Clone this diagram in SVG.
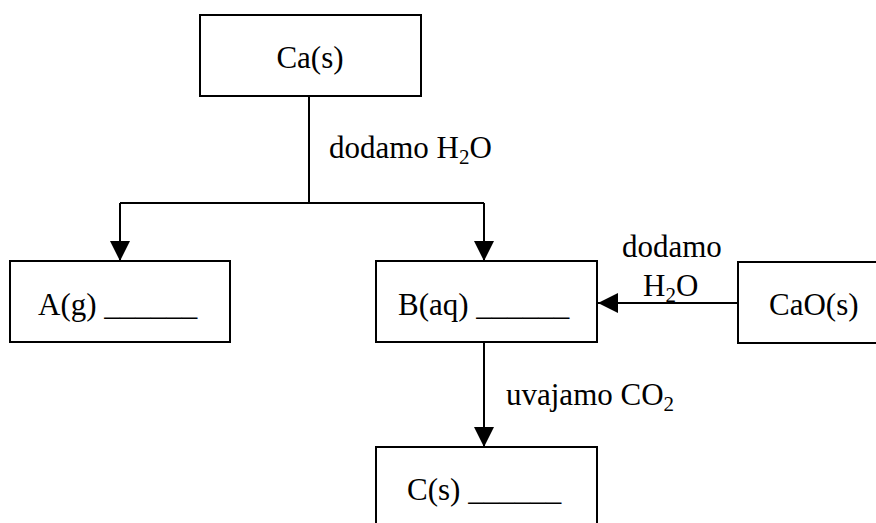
<svg xmlns="http://www.w3.org/2000/svg" width="876" height="523" viewBox="0 0 876 523">
<defs>
<marker id="ah" markerWidth="20" markerHeight="20" refX="20" refY="10" orient="auto" markerUnits="userSpaceOnUse">
<path d="M0,0 L20,10 L0,20 Z" fill="#000"/>
</marker>
<style>
.box{fill:#fff;stroke:#000;stroke-width:2}
.ln{fill:none;stroke:#000;stroke-width:2}
text{font-family:"Liberation Serif","Times New Roman",serif;font-size:31px;fill:#000}
.sub{font-size:21px}
</style>
</defs>
<rect width="876" height="523" fill="#fff"/>
<g id="connectors">
<path class="ln" d="M309,96 V203"/>
<path class="ln" d="M120,203 H484"/>
<path class="ln" d="M120,203 V261" marker-end="url(#ah)"/>
<path class="ln" d="M484,203 V261" marker-end="url(#ah)"/>
<path class="ln" d="M738,303 H598" marker-end="url(#ah)"/>
<path class="ln" d="M484,342 V447" marker-end="url(#ah)"/>
<text x="329" y="158">dodamo H<tspan class="sub" dy="6">2</tspan><tspan dy="-6">O</tspan></text>
<text x="622" y="257">dodamo</text>
<text x="643" y="296">H<tspan class="sub" dy="6">2</tspan><tspan dy="-6">O</tspan></text>
<text x="506" y="405">uvajamo CO<tspan class="sub" dy="6">2</tspan></text>
</g>
<g id="ca">
<rect class="box" x="200" y="15" width="221" height="81"/>
<text x="310" y="68" text-anchor="middle">Ca(s)</text>
</g>
<g id="a">
<rect class="box" x="10" y="261" width="220" height="81"/>
<text x="38" y="315">A(g) ______</text>
</g>
<g id="b">
<rect class="box" x="376" y="261" width="221" height="81"/>
<text x="398" y="315">B(aq) ______</text>
</g>
<g id="cao">
<rect class="box" x="738" y="262" width="150" height="81"/>
<text x="769" y="315">CaO(s)</text>
</g>
<g id="c">
<rect class="box" x="376" y="447" width="221" height="100"/>
<text x="407" y="500">C(s) ______</text>
</g>
</svg>
